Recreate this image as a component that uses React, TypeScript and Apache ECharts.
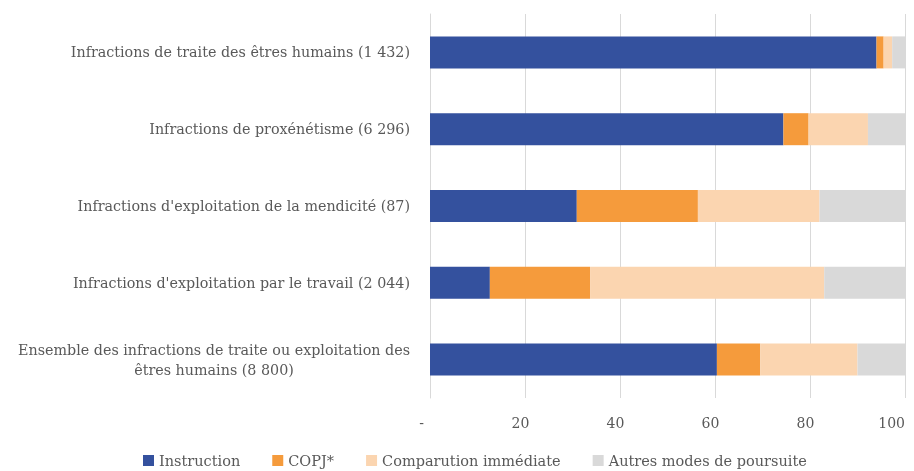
import React, { useEffect, useRef } from "react";
import * as echarts from "echarts";

const categories = [
  "Infractions de traite des êtres humains (1 432)",
  "Infractions de proxénétisme (6 296)",
  "Infractions d'exploitation de la mendicité (87)",
  "Infractions d'exploitation par le travail (2 044)",
  "Ensemble des infractions de traite ou exploitation des\nêtres humains (8 800)",
];

const instruction = [94.0, 74.4, 30.9, 12.6, 60.4];
const copj = [1.5, 5.3, 25.5, 21.1, 9.1];
const comparution = [1.8, 12.5, 25.6, 49.3, 20.5];
const autres = [2.7, 7.8, 18.0, 17.0, 10.0];

const seriesNames = ["Instruction", "COPJ*", "Comparution immédiate", "Autres modes de poursuite"];
const seriesColors = ["#34519E", "#F59B3C", "#FBD5B0", "#D9D9D9"];
const xTicks = [0, 20, 40, 60, 80, 100];

const FONT = "DejaVu Serif";
const TEXT = "#595959";

export default function App() {
  const ref = useRef<HTMLDivElement>(null);
  useEffect(() => {
    if (!ref.current) return;
    const chart = echarts.init(ref.current, undefined, { renderer: "svg", width: 914, height: 471 });
    const values = [instruction, copj, comparution, autres];
    const xMin = xTicks[0];
    const xMax = xTicks[xTicks.length - 1];
    chart.setOption({
      animation: false,
      grid: { left: 430, right: 9, top: 14, bottom: 73, containLabel: false, outerBoundsMode: "none" },
      legend: {
        bottom: -2,
        left: 138,
        itemWidth: 11,
        itemHeight: 11,
        itemGap: 32,
        icon: "rect",
        textStyle: { fontFamily: FONT, fontSize: 14.5, color: TEXT },
        data: seriesNames,
      },
      xAxis: {
        type: "value",
        min: xMin,
        max: xMax,
        interval: 20,
        axisLine: { show: false },
        axisTick: { show: false },
        splitLine: { lineStyle: { color: "#D9D9D9", width: 1 } },
        axisLabel: {
          margin: 18,
          alignMaxLabel: "right",
          formatter: (v: number) =>
            v === xMin ? "{m|-}" : v === xMax ? "{e|" + v + "}" : "{a|" + v + "}",
          rich: {
            a: { fontFamily: FONT, fontSize: 14, color: TEXT, padding: [0, 9, 0, 0] },
            m: { fontFamily: FONT, fontSize: 14, color: TEXT, padding: [0, 17, 0, 0] },
            e: { fontFamily: FONT, fontSize: 14, color: TEXT },
          },
        },
      },
      yAxis: {
        type: "category",
        inverse: true,
        data: categories,
        axisLine: { show: true, lineStyle: { color: "#D9D9D9" } },
        axisTick: { show: false },
        axisLabel: {
          margin: 20,
          formatter: (v: string) => "{c|" + v + "}",
          rich: {
            c: { fontFamily: FONT, fontSize: 14.3, color: TEXT, align: "center", lineHeight: 20 },
          },
        },
      },
      series: seriesNames.map((name, i) => ({
        name,
        type: "bar",
        stack: "total",
        barWidth: 32,
        itemStyle: { color: seriesColors[i] },
        data: values[i],
      })),
    });
    return () => chart.dispose();
  }, []);
  return <div ref={ref} style={{ position: "fixed", left: 0, top: 0, width: 914, height: 471 }} />;
}
